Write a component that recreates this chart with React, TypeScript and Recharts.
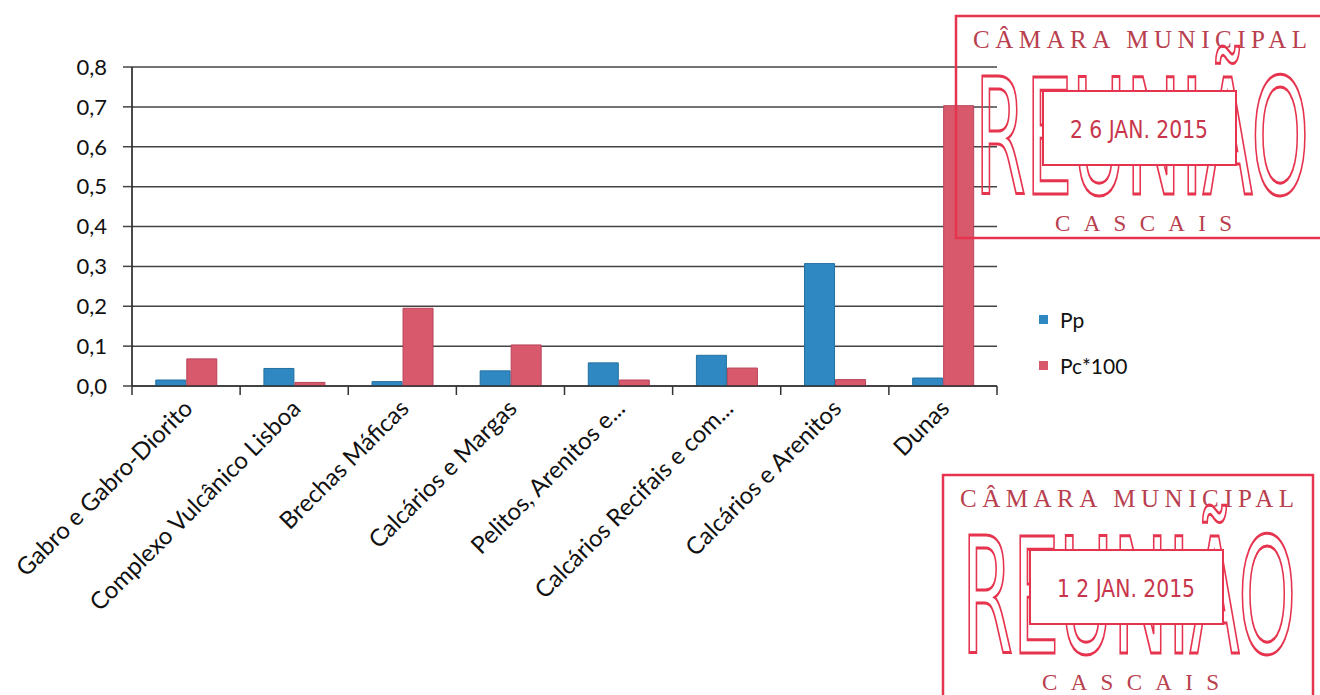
import { BarChart, Bar, XAxis, YAxis, CartesianGrid } from 'recharts'

const categories = [
    'Gabro e Gabro-Diorito',
    'Complexo Vulcânico Lisboa',
    'Brechas Máficas',
    'Calcários e Margas',
    'Pelitos, Arenitos e...',
    'Calcários Recifais e com...',
    'Calcários e Arenitos',
    'Dunas',
]
const pp = [0.015, 0.044, 0.011, 0.038, 0.058, 0.077, 0.307, 0.02]
const pc100 = [0.068, 0.009, 0.195, 0.103, 0.015, 0.045, 0.016, 0.703]
const yTicks = [0, 0.1, 0.2, 0.3, 0.4, 0.5, 0.6, 0.7, 0.8]
const seriesNames = ['Pp', 'Pc*100']

const BLUE = '#2f88c2'
const RED = '#d7596b'
const STAMP = '#e6344f'
const STAMP_TEXT = '#b8404e'
const FONT = 'Lato, "Open Sans", sans-serif'

const data = categories.map((name, i) => ({ name, pp: pp[i], pc: pc100[i] }))

const fmt = (v: number) => v.toFixed(1).replace('.', ',')

function CategoryTick(props: any) {
    const { x, y, payload, width, visibleTicksCount, index } = props
    const bw = width / visibleTicksCount
    return (
        <g>
            <line x1={x - bw / 2} x2={x - bw / 2} y1={y - 8} y2={y + 1} stroke="#333" strokeWidth={1.5} />
            {index === visibleTicksCount - 1 && (
                <line x1={x + bw / 2} x2={x + bw / 2} y1={y - 8} y2={y + 1} stroke="#333" strokeWidth={1.5} />
            )}
            <text
                transform={`translate(${x + 8}, ${y + 16}) rotate(-45)`}
                textAnchor="end"
                fontSize={24}
                fill="#111"
                fontFamily={FONT}
            >
                {payload.value}
            </text>
        </g>
    )
}

function LegendBox() {
    const colors = [BLUE, RED]
    return (
        <div style={{ position: 'absolute', left: 1039, top: 296, fontFamily: FONT, fontSize: 21, color: '#111' }}>
            {seriesNames.map((label, i) => (
                <div key={label} style={{ display: 'flex', alignItems: 'center', height: 46 }}>
                    <span style={{ width: 9, height: 9, background: colors[i], marginRight: 12, display: 'inline-block' }} />
                    {label}
                </div>
            ))}
        </div>
    )
}

function Stamp({ left, top, date }: { left: number; top: number; date: string }) {
    return (
        <svg
            width={420}
            height={260}
            style={{ position: 'absolute', left, top, overflow: 'visible', pointerEvents: 'none' }}
        >
            <rect x={1} y={1} width={370} height={222} fill="none" stroke={STAMP} strokeWidth={2.5} />
            <text x={18} y={33} fontFamily='"Liberation Serif", "DejaVu Serif", serif' fontSize={25}
                fill={STAMP_TEXT} textLength={334} lengthAdjust="spacing">
                CÂMARA MUNICIPAL
            </text>
            <text x={20} y={179} fontFamily='"Liberation Sans Narrow", "DejaVu Sans Condensed", sans-serif'
                fontSize={160} fill="none" stroke={STAMP} strokeWidth={3}
                textLength={334} lengthAdjust="spacingAndGlyphs">
                REUNIÃO
            </text>
            <rect x={88} y={76} width={193} height={74} fill="#fff" stroke={STAMP} strokeWidth={2} />
            <text x={184} y={123} textAnchor="middle" fontFamily='"DejaVu Sans Condensed", sans-serif'
                fontSize={24} fill="#c8364c" textLength={138} lengthAdjust="spacingAndGlyphs">
                {date}
            </text>
            <text x={100} y={216} fontFamily='"Liberation Serif", "DejaVu Serif", serif' fontSize={23}
                fill={STAMP_TEXT} textLength={177} lengthAdjust="spacing">
                CASCAIS
            </text>
        </svg>
    )
}

export default function App() {
    return (
        <div style={{ position: 'absolute', left: 0, top: 0, width: 1320, height: 695, background: '#fff', overflow: 'hidden' }}>
            <BarChart
                width={1320}
                height={695}
                data={data}
                margin={{ top: 67, right: 323, bottom: 59, left: 62 }}
                barCategoryGap="22%"
                barGap={1}
            >
                <CartesianGrid vertical={false} stroke="#444" strokeWidth={1.5} />
                <XAxis
                    dataKey="name"
                    height={250}
                    interval={0}
                    tickLine={false}
                    axisLine={{ stroke: '#333', strokeWidth: 1.5 }}
                    tick={<CategoryTick />}
                />
                <YAxis
                    width={70}
                    domain={[0, 0.8]}
                    ticks={yTicks}
                    interval={0}
                    tickFormatter={fmt}
                    tickLine={{ stroke: '#444', strokeWidth: 1.5 }}
                    tickSize={9}
                    axisLine={{ stroke: '#111', strokeWidth: 1.5 }}
                    tick={{ fill: '#111', fontSize: 22, fontFamily: FONT }}
                    tickMargin={16}
                />
                <Bar dataKey="pp" name={seriesNames[0]} fill={BLUE} stroke="#22709f" strokeWidth={1} isAnimationActive={false} />
                <Bar dataKey="pc" name={seriesNames[1]} fill={RED} stroke="#b8445a" strokeWidth={1} isAnimationActive={false} />
            </BarChart>
            <LegendBox />
            <Stamp left={955} top={15} date="2 6 JAN. 2015" />
            <Stamp left={942} top={474} date="1 2 JAN. 2015" />
        </div>
    )
}
